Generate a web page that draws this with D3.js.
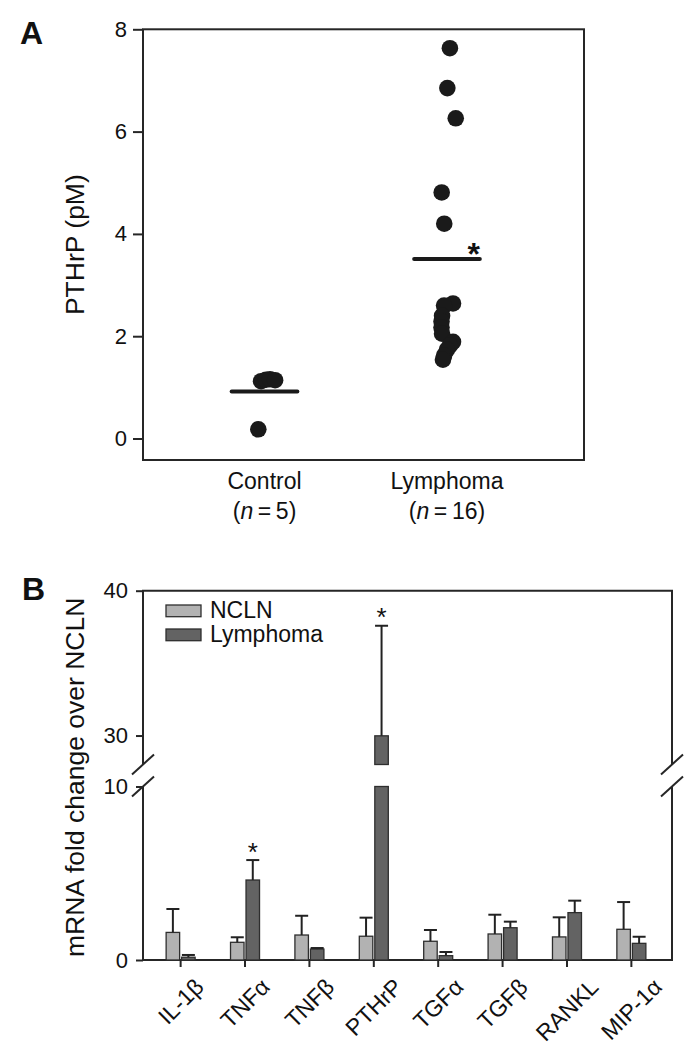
<!DOCTYPE html>
<html><head><meta charset="utf-8">
<script src="https://cdn.jsdelivr.net/npm/d3@7"></script>
<style>
body{margin:0;background:#fff}
svg{display:block}
text{font-family:"Liberation Sans",Arial,Helvetica,sans-serif;fill:#111}
</style>
</head><body>
<svg id="chart" width="696" height="1050"></svg>
<script>
// ---------- Panel A data ----------
const groupsA = ["Control", "Lymphoma"];
const groupN = ["5", "16"];
const controlValues = [0.18, 1.12, 1.15, 1.16, 1.14];
const controlJitter = [-0.034, -0.019, 0.008, 0.030, 0.058];
const lymphomaValues = [7.63, 6.85, 6.26, 4.81, 4.20, 2.64, 2.60, 2.40, 2.29, 2.17, 2.05, 1.89, 1.82, 1.74, 1.62, 1.54];
const lymphomaJitter = [0.016, 0.002, 0.048, -0.029, -0.015, 0.033, -0.016, -0.027, -0.030, -0.030, -0.027, 0.033, 0.016, 0.000, -0.016, -0.022];
const groupMeans = [0.92, 3.51];
const ticksA = [0, 2, 4, 6, 8];

// ---------- Panel B data ----------
const genes = ["IL-1\u03B2", "TNF\u03B1", "TNF\u03B2", "PTHrP", "TGF\u03B1", "TGF\u03B2", "RANKL", "MIP-1\u03B1"];
const seriesNames = ["NCLN", "Lymphoma"];
const nclnMean = [1.59, 1.02, 1.44, 1.37, 1.08, 1.50, 1.33, 1.77];
const nclnErr  = [1.35, 0.29, 1.11, 1.07, 0.65, 1.11, 1.13, 1.57];
const lymMean  = [0.16, 4.61, 0.63, 29.98, 0.25, 1.86, 2.73, 0.96];
const lymErr   = [0.13, 1.15, 0.06, 7.60, 0.21, 0.35, 0.69, 0.38];
const significantGenes = ["TNF\u03B1", "PTHrP"];
const ticksLow = [0, 10];
const ticksHigh = [30, 40];

const svg = d3.select("#chart");
const ink = "#1a1a1a", frameCol = "#262626";

// ================= PANEL A =================
const A = {left: 143, right: 584, top: 29.3, bottom: 460};
const yA = d3.scaleLinear().domain([-0.42, 8]).range([A.bottom, A.top]);
const xA = d3.scalePoint().domain(groupsA).range([A.left, 568.5]).padding(0.666);
const stepA = xA.step();

svg.append("text").attr("x", 20).attr("y", 43.5).attr("font-size", 32).attr("font-weight", "bold").text("A");

const axA = svg.append("g").attr("transform", `translate(${A.left},0)`)
  .call(d3.axisLeft(yA).tickValues(ticksA).tickSize(10).tickPadding(6).tickFormat(d3.format("d")));
axA.select(".domain").remove();
axA.selectAll(".tick line").attr("stroke", frameCol).attr("stroke-width", 2);
axA.selectAll(".tick text").attr("font-size", 22).attr("fill", "#111")
  .attr("font-family", "'Liberation Sans',Arial,sans-serif");

svg.append("rect").attr("x", A.left).attr("y", A.top).attr("width", A.right - A.left).attr("height", A.bottom - A.top)
  .attr("fill", "none").attr("stroke", frameCol).attr("stroke-width", 2);

svg.append("text").attr("transform", `translate(84,${(A.top + A.bottom) / 2}) rotate(-90)`)
  .attr("text-anchor", "middle").attr("font-size", 26.5).text("PTHrP (pM)");

const ptsA = [];
controlValues.forEach((v, i) => ptsA.push({g: "Control", v, j: controlJitter[i]}));
lymphomaValues.forEach((v, i) => ptsA.push({g: "Lymphoma", v, j: lymphomaJitter[i]}));

svg.append("g").selectAll("circle").data(ptsA).join("circle")
  .attr("cx", d => xA(d.g) + d.j * stepA).attr("cy", d => yA(d.v)).attr("r", 8.3).attr("fill", ink);

const halfLine = 0.18 * stepA;
svg.append("g").selectAll("line").data(groupsA).join("line")
  .attr("x1", d => xA(d) - halfLine).attr("x2", d => xA(d) + halfLine)
  .attr("y1", (d, i) => yA(groupMeans[i])).attr("y2", (d, i) => yA(groupMeans[i]))
  .attr("stroke", ink).attr("stroke-width", 4).attr("stroke-linecap", "round");

// significance asterisk panel A
svg.append("text").attr("x", xA("Lymphoma") + halfLine - 6).attr("y", yA(groupMeans[1]) - 12.6 + 0.585 * 32)
  .attr("text-anchor", "middle").attr("font-size", 32).attr("font-weight", "bold").text("*");

groupsA.forEach((g, i) => {
  const t = svg.append("text").attr("x", xA(g)).attr("y", 489).attr("text-anchor", "middle").attr("font-size", 23);
  t.append("tspan").attr("x", xA(g)).attr("y", 489).text(g);
  const t2 = t.append("tspan").attr("x", xA(g)).attr("y", 519);
  t2.text("(");
  t.append("tspan").attr("font-style", "italic").text("n");
  t.append("tspan").text("\u2009=\u2009" + groupN[i] + ")");
});

// ================= PANEL B =================
const B = {left: 143, right: 672, top: 590.7, bottom: 960};
const brk = {lowTop: 786.5, highBottom: 764.5};
const yLo = d3.scaleLinear().domain([0, 10]).range([B.bottom, brk.lowTop]);
const yHi = d3.scaleLinear().domain([28, 40]).range([brk.highBottom, B.top]);
const yB = v => v <= 10 ? yLo(v) : yHi(v);
const xB = d3.scalePoint().domain(genes).range([142, 670]).padding(0.6);

svg.append("text").attr("x", 22).attr("y", 600).attr("font-size", 32).attr("font-weight", "bold").text("B");

[[yLo, ticksLow], [yHi, ticksHigh]].forEach(([sc, tv]) => {
  const g = svg.append("g").attr("transform", `translate(${B.left},0)`)
    .call(d3.axisLeft(sc).tickValues(tv).tickSize(7).tickPadding(8).tickFormat(d3.format("d")));
  g.select(".domain").remove();
  g.selectAll(".tick line").attr("stroke", frameCol).attr("stroke-width", 2);
  g.selectAll(".tick text").attr("font-size", 22).attr("fill", "#111")
    .attr("font-family", "'Liberation Sans',Arial,sans-serif");
});

// frame with breaks
svg.append("path")
  .attr("d", `M${B.left},${B.bottom}V${brk.lowTop}M${B.left},${brk.highBottom}V${B.top}H${B.right}V${brk.highBottom}M${B.right},${brk.lowTop}V${B.bottom}H${B.left}`)
  .attr("fill", "none").attr("stroke", frameCol).attr("stroke-width", 2);

// break slashes
[B.left, B.right].forEach(x => {
  [brk.highBottom, brk.lowTop].forEach(y => {
    svg.append("line").attr("x1", x - 11).attr("y1", y + 10).attr("x2", x + 11).attr("y2", y - 10)
      .attr("stroke", frameCol).attr("stroke-width", 2);
  });
});

svg.append("text").attr("transform", `translate(84,${(B.top + B.bottom) / 2 + 2}) rotate(-90)`)
  .attr("text-anchor", "middle").attr("font-size", 26.5).text("mRNA fold change over NCLN");

// bars
const barW = 13.5;
const fills = {NCLN: "#b2b2b2", Lymphoma: "#636363"};
const barData = [];
genes.forEach((g, i) => {
  barData.push({g, s: "NCLN", v: nclnMean[i], e: nclnErr[i], x: xB(g) - 1 - barW});
  barData.push({g, s: "Lymphoma", v: lymMean[i], e: lymErr[i], x: xB(g) + 1});
});
const segs = [];
barData.forEach(d => {
  if (d.v <= 10) segs.push({...d, y0: yLo(0), y1: yLo(d.v)});
  else {
    segs.push({...d, y0: yLo(0), y1: yLo(10)});
    segs.push({...d, y0: yHi(28), y1: yHi(d.v)});
  }
});
svg.append("g").selectAll("rect").data(segs).join("rect")
  .attr("x", d => d.x).attr("width", barW)
  .attr("y", d => d.y1).attr("height", d => d.y0 - d.y1)
  .attr("fill", d => fills[d.s]).attr("stroke", "#2e2e2e").attr("stroke-width", 1.3);

// error bars
const eb = svg.append("g").attr("stroke", "#222").attr("stroke-width", 2);
barData.forEach(d => {
  const cx = d.x + barW / 2;
  eb.append("line").attr("x1", cx).attr("x2", cx).attr("y1", yB(d.v)).attr("y2", yB(d.v + d.e));
  eb.append("line").attr("x1", cx - 6.5).attr("x2", cx + 6.5).attr("y1", yB(d.v + d.e)).attr("y2", yB(d.v + d.e));
});

// significance asterisks
barData.filter(d => d.s === "Lymphoma" && significantGenes.includes(d.g)).forEach(d => {
  svg.append("text").attr("x", d.x + barW / 2).attr("y", yB(d.v + d.e) - 14.5 + 0.585 * 26)
    .attr("text-anchor", "middle").attr("font-size", 26).text("*");
});

// x ticks
svg.append("g").selectAll("line").data(genes).join("line")
  .attr("x1", d => xB(d)).attr("x2", d => xB(d)).attr("y1", B.bottom).attr("y2", B.bottom + 7)
  .attr("stroke", frameCol).attr("stroke-width", 2);

// rotated category labels (centre on tick, tops aligned)
genes.forEach(g => {
  const t = svg.append("text").attr("text-anchor", "middle").attr("font-size", 23)
    .attr("dy", "0.35em").text(g);
  const L = t.node().getComputedTextLength();
  const cy = 977 + (L + 16) * 0.3536;
  t.attr("transform", `translate(${xB(g)},${cy}) rotate(-45)`);
});

// legend
seriesNames.forEach((s, i) => {
  const y = 605 + i * 24;
  svg.append("rect").attr("x", 166).attr("y", y).attr("width", 35).attr("height", 11.7)
    .attr("fill", fills[s]).attr("stroke", "#2e2e2e").attr("stroke-width", 1.3);
  svg.append("text").attr("x", 210).attr("y", y + 12.5).attr("font-size", 23).text(s);
});
</script>
</body></html>
